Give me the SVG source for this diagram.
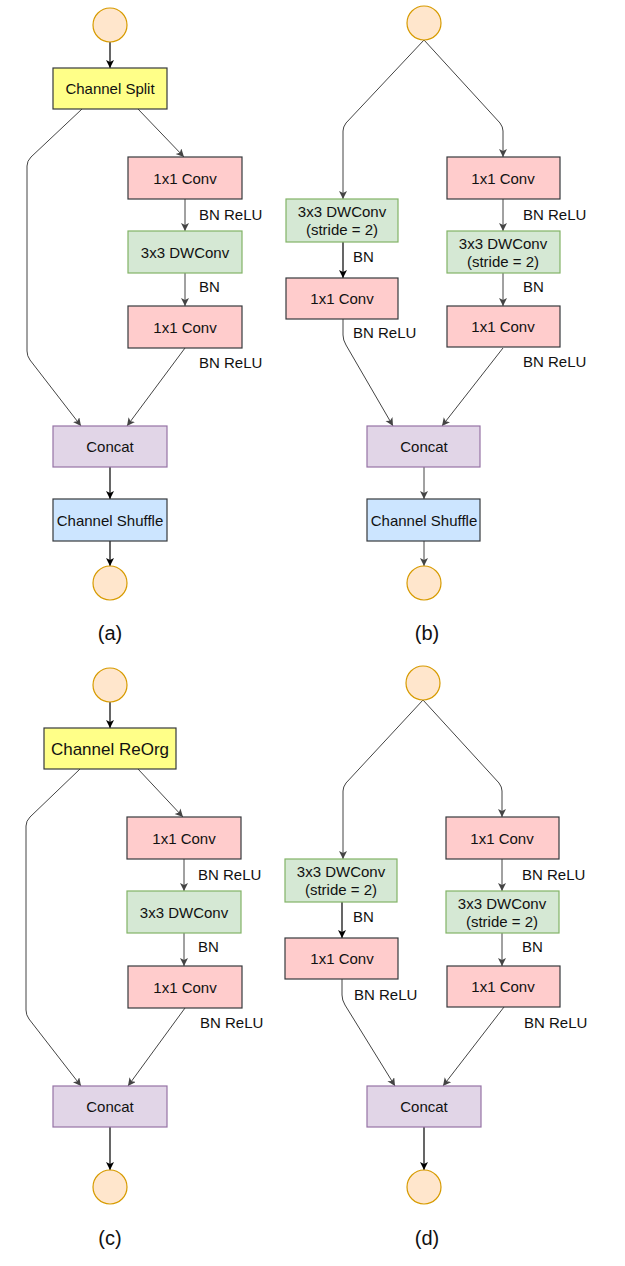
<svg xmlns="http://www.w3.org/2000/svg" width="625" height="1266" viewBox="0 0 625 1266">
<style>
text{font-family:"Liberation Sans",Arial,sans-serif;font-size:15px;fill:#111;}
.c{text-anchor:middle;}
.big{font-size:17px;}
.cap{font-size:20px;}
.yellow{fill:#ffff88;stroke:#36393d;stroke-width:1.2;}
.pink{fill:#ffcccc;stroke:#36393d;stroke-width:1.2;}
.green{fill:#d5e8d4;stroke:#82b366;stroke-width:1.2;}
.purple{fill:#e1d5e7;stroke:#9673a6;stroke-width:1.2;}
.blue{fill:#cce5ff;stroke:#36393d;stroke-width:1.2;}
.io{fill:#ffe6cc;stroke:#d79b00;stroke-width:1.2;}
.e{fill:none;stroke:#444;stroke-width:1;marker-end:url(#arr);}
.k{fill:none;stroke:#000;stroke-width:1.2;marker-end:url(#arrk);}
</style>
<defs>
<marker id="arr" markerUnits="userSpaceOnUse" markerWidth="10" markerHeight="10" refX="8" refY="4" orient="auto"><path d="M0,0 L8,4 L0,8 L2,4 z" fill="#444"/></marker>
<marker id="arrk" markerUnits="userSpaceOnUse" markerWidth="10" markerHeight="10" refX="8" refY="4" orient="auto"><path d="M0,0 L8,4 L0,8 L2,4 z" fill="#000"/></marker>
</defs>
<rect width="625" height="1266" fill="#fff"/>

<g id="connectors">
<!-- (a) -->
<path class="k" d="M110,42 V68"/>
<path class="e" d="M82,109 L31,157 Q27,161 27,166 V351 Q27,356 30,360 L81,426"/>
<path class="e" d="M138,109 L184,157"/>
<path class="e" d="M185,199 V231"/>
<path class="e" d="M185,273 V306"/>
<path class="e" d="M185,348 L127,426"/>
<path class="k" d="M110,467 V499"/>
<path class="k" d="M110,541 V566"/>
<!-- (b) -->
<path class="e" d="M424,40 L346,123 Q343,127 343,131 V199"/>
<path class="e" d="M424,40 L500,123 Q503,127 503,131 V157"/>
<path class="e" d="M503,199 V231"/>
<path class="e" d="M503,273 V306"/>
<path class="k" d="M343,242 V278"/>
<path class="e" d="M343,319 V335 Q343,340 346,345 L393,426"/>
<path class="e" d="M503,348 L442,426"/>
<path class="e" d="M424,467 V499"/>
<path class="e" d="M424,541 V566"/>
<!-- (c) -->
<path class="k" d="M110,702 V728"/>
<path class="e" d="M80,769 L30,817 Q26,821 26,826 V1010 Q26,1015 29,1019 L81,1086"/>
<path class="e" d="M138,769 L183,817"/>
<path class="e" d="M184,859 V891"/>
<path class="e" d="M184,933 V966"/>
<path class="e" d="M185,1008 L128,1086"/>
<path class="k" d="M110,1127 V1170"/>
<!-- (d) -->
<path class="e" d="M423,700 L346,783 Q343,787 343,791 V859"/>
<path class="e" d="M423,700 L499,783 Q502,787 502,791 V817"/>
<path class="e" d="M502,859 V891"/>
<path class="e" d="M502,933 V966"/>
<path class="k" d="M342,902 V938"/>
<path class="e" d="M342,979 V995 Q342,1000 345,1005 L395,1086"/>
<path class="e" d="M504,1007 L443,1086"/>
<path class="k" d="M424,1127 V1170"/>
</g>

<g id="labels">
<text x="199" y="220">BN ReLU</text>
<text x="199" y="292">BN</text>
<text x="199" y="368">BN ReLU</text>
<text x="523" y="220">BN ReLU</text>
<text x="523" y="292">BN</text>
<text x="523" y="367">BN ReLU</text>
<text x="353" y="262">BN</text>
<text x="353" y="338">BN ReLU</text>
<text x="198" y="880">BN ReLU</text>
<text x="198" y="952">BN</text>
<text x="200" y="1028">BN ReLU</text>
<text x="522" y="880">BN ReLU</text>
<text x="522" y="952">BN</text>
<text x="353" y="922">BN</text>
<text x="354" y="1000">BN ReLU</text>
<text x="524" y="1028">BN ReLU</text>
<text class="c cap" x="110" y="640">(a)</text>
<text class="c cap" x="427" y="640">(b)</text>
<text class="c cap" x="110" y="1245">(c)</text>
<text class="c cap" x="427" y="1245">(d)</text>
</g>

<!-- (a) nodes -->
<g id="a_in"><circle class="io" cx="110" cy="25" r="17"/></g>
<g id="a_split"><rect class="yellow" x="53" y="68" width="114" height="41"/><text class="c" x="110" y="94">Channel Split</text></g>
<g id="a_conv1"><rect class="pink" x="128" y="157" width="114" height="42"/><text class="c" x="185" y="184">1x1 Conv</text></g>
<g id="a_dw"><rect class="green" x="128" y="231" width="114" height="42"/><text class="c" x="185" y="258">3x3 DWConv</text></g>
<g id="a_conv2"><rect class="pink" x="128" y="306" width="114" height="42"/><text class="c" x="185" y="333">1x1 Conv</text></g>
<g id="a_concat"><rect class="purple" x="53" y="426" width="114" height="41"/><text class="c" x="110" y="452">Concat</text></g>
<g id="a_shuffle"><rect class="blue" x="53" y="499" width="114" height="42"/><text class="c" x="110" y="526">Channel Shuffle</text></g>
<g id="a_out"><circle class="io" cx="110" cy="583" r="17"/></g>

<!-- (b) nodes -->
<g id="b_in"><circle class="io" cx="424" cy="23" r="17"/></g>
<g id="b_ldw"><rect class="green" x="286" y="199" width="112" height="43"/><text class="c" x="342" y="217">3x3 DWConv</text><text class="c" x="342" y="235">(stride = 2)</text></g>
<g id="b_lconv"><rect class="pink" x="286" y="278" width="112" height="41"/><text class="c" x="342" y="304">1x1 Conv</text></g>
<g id="b_rconv1"><rect class="pink" x="447" y="157" width="113" height="42"/><text class="c" x="503" y="184">1x1 Conv</text></g>
<g id="b_rdw"><rect class="green" x="447" y="231" width="113" height="42"/><text class="c" x="503" y="249">3x3 DWConv</text><text class="c" x="503" y="267">(stride = 2)</text></g>
<g id="b_rconv2"><rect class="pink" x="447" y="306" width="113" height="41"/><text class="c" x="503" y="332">1x1 Conv</text></g>
<g id="b_concat"><rect class="purple" x="367" y="426" width="113" height="41"/><text class="c" x="424" y="452">Concat</text></g>
<g id="b_shuffle"><rect class="blue" x="367" y="499" width="113" height="42"/><text class="c" x="424" y="526">Channel Shuffle</text></g>
<g id="b_out"><circle class="io" cx="424" cy="583" r="17"/></g>

<!-- (c) nodes -->
<g id="c_in"><circle class="io" cx="110" cy="685" r="17"/></g>
<g id="c_reorg"><rect class="yellow" x="44" y="728" width="132" height="41"/><text class="c big" x="110" y="755">Channel ReOrg</text></g>
<g id="c_conv1"><rect class="pink" x="127" y="817" width="114" height="42"/><text class="c" x="184" y="844">1x1 Conv</text></g>
<g id="c_dw"><rect class="green" x="127" y="891" width="114" height="42"/><text class="c" x="184" y="918">3x3 DWConv</text></g>
<g id="c_conv2"><rect class="pink" x="128" y="966" width="114" height="42"/><text class="c" x="185" y="993">1x1 Conv</text></g>
<g id="c_concat"><rect class="purple" x="53" y="1086" width="114" height="41"/><text class="c" x="110" y="1112">Concat</text></g>
<g id="c_out"><circle class="io" cx="110" cy="1187" r="17"/></g>

<!-- (d) nodes -->
<g id="d_in"><circle class="io" cx="423" cy="683" r="17"/></g>
<g id="d_ldw"><rect class="green" x="285" y="859" width="112" height="43"/><text class="c" x="341" y="877">3x3 DWConv</text><text class="c" x="341" y="895">(stride = 2)</text></g>
<g id="d_lconv"><rect class="pink" x="285" y="938" width="113" height="41"/><text class="c" x="342" y="964">1x1 Conv</text></g>
<g id="d_rconv1"><rect class="pink" x="446" y="817" width="113" height="42"/><text class="c" x="502" y="844">1x1 Conv</text></g>
<g id="d_rdw"><rect class="green" x="446" y="891" width="113" height="42"/><text class="c" x="502" y="909">3x3 DWConv</text><text class="c" x="502" y="927">(stride = 2)</text></g>
<g id="d_rconv2"><rect class="pink" x="447" y="966" width="113" height="41"/><text class="c" x="503" y="992">1x1 Conv</text></g>
<g id="d_concat"><rect class="purple" x="367" y="1086" width="114" height="41"/><text class="c" x="424" y="1112">Concat</text></g>
<g id="d_out"><circle class="io" cx="424" cy="1187" r="17"/></g>
</svg>
